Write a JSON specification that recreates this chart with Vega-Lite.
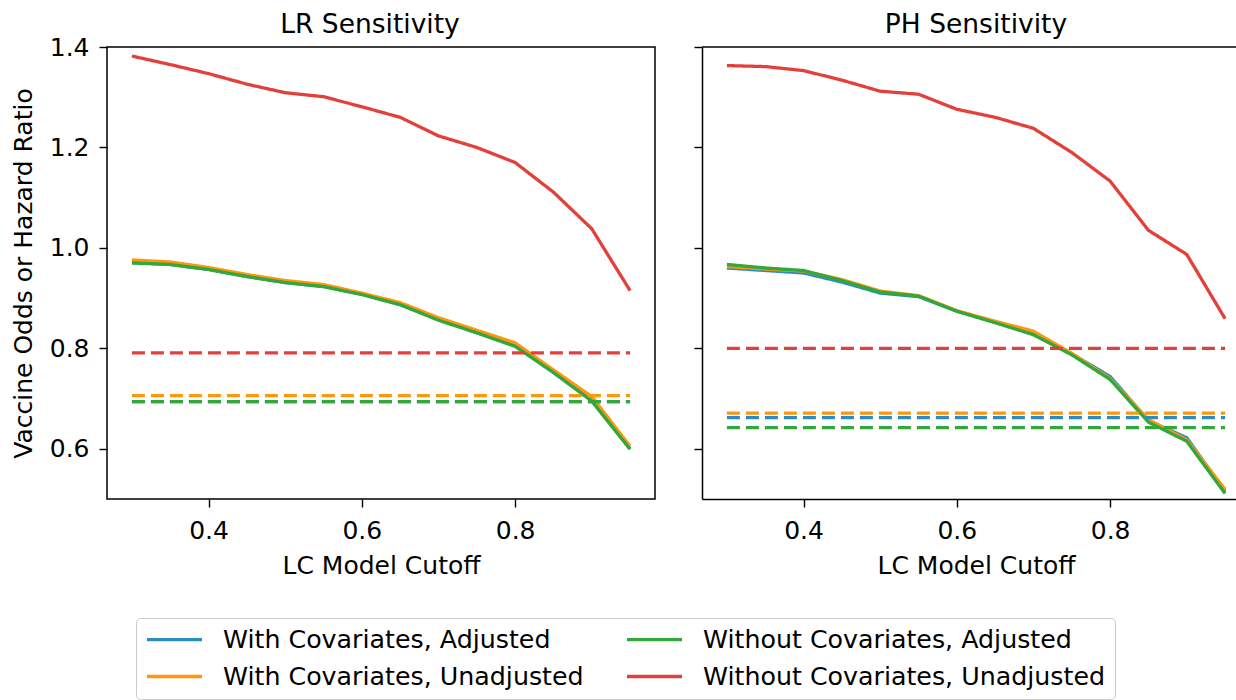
{
  "$schema": "https://vega.github.io/schema/vega-lite/v6.json",
  "padding": {"left": 10, "top": 10, "right": 0, "bottom": 0},
  "background": "white",
  "spacing": 37,
  "config": {
    "font": "DejaVu Sans",
    "view": {"stroke": "black", "strokeWidth": 1.5},
    "axis": {
      "grid": false, "domain": false,
      "labelFont": "DejaVu Sans", "titleFont": "DejaVu Sans",
      "labelFontSize": 25, "titleFontSize": 25,
      "labelColor": "black", "titleColor": "black", "titleFontWeight": "normal",
      "tickColor": "black", "tickWidth": 1.4, "tickSize": 8,
      "labelPadding": 10, "titlePadding": 13,
      "domainColor": "black", "domainWidth": 1.5
    },
    "axisX": {"labelPadding": 11, "titlePadding": 10},
    "title": {"font": "DejaVu Sans", "fontSize": 26.5, "fontWeight": "normal", "color": "black", "offset": 8, "frame": "group"},
    "legend": {
      "orient": "none", "legendX": 29, "legendY": 571, "direction": "vertical",
      "columns": 2, "symbolType": "stroke", "symbolSize": 3025, "symbolStrokeWidth": 3.3, "clipHeight": 25,
      "labelFont": "DejaVu Sans", "labelFontSize": 25.3, "labelColor": "black", "labelLimit": 0,
      "labelOffset": 19, "columnPadding": 41, "rowPadding": 11, "padding": 9,
      "strokeColor": "#cccccc", "fillColor": "white", "cornerRadius": 4
    }
  },
  "datasets": {
    "d": [
      {"p":"LR","s":"With Covariates, Adjusted","k":"solid","x":0.3,"y":0.971},
      {"p":"LR","s":"With Covariates, Adjusted","k":"solid","x":0.35,"y":0.967},
      {"p":"LR","s":"With Covariates, Adjusted","k":"solid","x":0.4,"y":0.957},
      {"p":"LR","s":"With Covariates, Adjusted","k":"solid","x":0.45,"y":0.943},
      {"p":"LR","s":"With Covariates, Adjusted","k":"solid","x":0.5,"y":0.931},
      {"p":"LR","s":"With Covariates, Adjusted","k":"solid","x":0.55,"y":0.923},
      {"p":"LR","s":"With Covariates, Adjusted","k":"solid","x":0.6,"y":0.908},
      {"p":"LR","s":"With Covariates, Adjusted","k":"solid","x":0.65,"y":0.887},
      {"p":"LR","s":"With Covariates, Adjusted","k":"solid","x":0.7,"y":0.857},
      {"p":"LR","s":"With Covariates, Adjusted","k":"solid","x":0.75,"y":0.831},
      {"p":"LR","s":"With Covariates, Adjusted","k":"solid","x":0.8,"y":0.805},
      {"p":"LR","s":"With Covariates, Adjusted","k":"solid","x":0.85,"y":0.752},
      {"p":"LR","s":"With Covariates, Adjusted","k":"solid","x":0.9,"y":0.696},
      {"p":"LR","s":"With Covariates, Adjusted","k":"solid","x":0.95,"y":0.600},
      {"p":"LR","s":"With Covariates, Unadjusted","k":"solid","x":0.3,"y":0.976},
      {"p":"LR","s":"With Covariates, Unadjusted","k":"solid","x":0.35,"y":0.972},
      {"p":"LR","s":"With Covariates, Unadjusted","k":"solid","x":0.4,"y":0.961},
      {"p":"LR","s":"With Covariates, Unadjusted","k":"solid","x":0.45,"y":0.947},
      {"p":"LR","s":"With Covariates, Unadjusted","k":"solid","x":0.5,"y":0.935},
      {"p":"LR","s":"With Covariates, Unadjusted","k":"solid","x":0.55,"y":0.927},
      {"p":"LR","s":"With Covariates, Unadjusted","k":"solid","x":0.6,"y":0.910},
      {"p":"LR","s":"With Covariates, Unadjusted","k":"solid","x":0.65,"y":0.891},
      {"p":"LR","s":"With Covariates, Unadjusted","k":"solid","x":0.7,"y":0.861},
      {"p":"LR","s":"With Covariates, Unadjusted","k":"solid","x":0.75,"y":0.836},
      {"p":"LR","s":"With Covariates, Unadjusted","k":"solid","x":0.8,"y":0.811},
      {"p":"LR","s":"With Covariates, Unadjusted","k":"solid","x":0.85,"y":0.757},
      {"p":"LR","s":"With Covariates, Unadjusted","k":"solid","x":0.9,"y":0.704},
      {"p":"LR","s":"With Covariates, Unadjusted","k":"solid","x":0.95,"y":0.605},
      {"p":"LR","s":"Without Covariates, Adjusted","k":"solid","x":0.3,"y":0.970},
      {"p":"LR","s":"Without Covariates, Adjusted","k":"solid","x":0.35,"y":0.967},
      {"p":"LR","s":"Without Covariates, Adjusted","k":"solid","x":0.4,"y":0.957},
      {"p":"LR","s":"Without Covariates, Adjusted","k":"solid","x":0.45,"y":0.943},
      {"p":"LR","s":"Without Covariates, Adjusted","k":"solid","x":0.5,"y":0.931},
      {"p":"LR","s":"Without Covariates, Adjusted","k":"solid","x":0.55,"y":0.923},
      {"p":"LR","s":"Without Covariates, Adjusted","k":"solid","x":0.6,"y":0.907},
      {"p":"LR","s":"Without Covariates, Adjusted","k":"solid","x":0.65,"y":0.887},
      {"p":"LR","s":"Without Covariates, Adjusted","k":"solid","x":0.7,"y":0.856},
      {"p":"LR","s":"Without Covariates, Adjusted","k":"solid","x":0.75,"y":0.831},
      {"p":"LR","s":"Without Covariates, Adjusted","k":"solid","x":0.8,"y":0.804},
      {"p":"LR","s":"Without Covariates, Adjusted","k":"solid","x":0.85,"y":0.752},
      {"p":"LR","s":"Without Covariates, Adjusted","k":"solid","x":0.9,"y":0.695},
      {"p":"LR","s":"Without Covariates, Adjusted","k":"solid","x":0.95,"y":0.599},
      {"p":"LR","s":"Without Covariates, Unadjusted","k":"solid","x":0.3,"y":1.382},
      {"p":"LR","s":"Without Covariates, Unadjusted","k":"solid","x":0.35,"y":1.365},
      {"p":"LR","s":"Without Covariates, Unadjusted","k":"solid","x":0.4,"y":1.347},
      {"p":"LR","s":"Without Covariates, Unadjusted","k":"solid","x":0.45,"y":1.326},
      {"p":"LR","s":"Without Covariates, Unadjusted","k":"solid","x":0.5,"y":1.309},
      {"p":"LR","s":"Without Covariates, Unadjusted","k":"solid","x":0.55,"y":1.301},
      {"p":"LR","s":"Without Covariates, Unadjusted","k":"solid","x":0.6,"y":1.281},
      {"p":"LR","s":"Without Covariates, Unadjusted","k":"solid","x":0.65,"y":1.260},
      {"p":"LR","s":"Without Covariates, Unadjusted","k":"solid","x":0.7,"y":1.223},
      {"p":"LR","s":"Without Covariates, Unadjusted","k":"solid","x":0.75,"y":1.200},
      {"p":"LR","s":"Without Covariates, Unadjusted","k":"solid","x":0.8,"y":1.170},
      {"p":"LR","s":"Without Covariates, Unadjusted","k":"solid","x":0.85,"y":1.111},
      {"p":"LR","s":"Without Covariates, Unadjusted","k":"solid","x":0.9,"y":1.038},
      {"p":"LR","s":"Without Covariates, Unadjusted","k":"solid","x":0.95,"y":0.915},
      {"p":"LR","s":"With Covariates, Adjusted","k":"dashed","x":0.3,"y":0.694},
      {"p":"LR","s":"With Covariates, Adjusted","k":"dashed","x":0.95,"y":0.694},
      {"p":"LR","s":"With Covariates, Unadjusted","k":"dashed","x":0.3,"y":0.706},
      {"p":"LR","s":"With Covariates, Unadjusted","k":"dashed","x":0.95,"y":0.706},
      {"p":"LR","s":"Without Covariates, Adjusted","k":"dashed","x":0.3,"y":0.694},
      {"p":"LR","s":"Without Covariates, Adjusted","k":"dashed","x":0.95,"y":0.694},
      {"p":"LR","s":"Without Covariates, Unadjusted","k":"dashed","x":0.3,"y":0.791},
      {"p":"LR","s":"Without Covariates, Unadjusted","k":"dashed","x":0.95,"y":0.791},

      {"p":"PH","s":"With Covariates, Adjusted","k":"solid","x":0.3,"y":0.960},
      {"p":"PH","s":"With Covariates, Adjusted","k":"solid","x":0.35,"y":0.955},
      {"p":"PH","s":"With Covariates, Adjusted","k":"solid","x":0.4,"y":0.950},
      {"p":"PH","s":"With Covariates, Adjusted","k":"solid","x":0.45,"y":0.932},
      {"p":"PH","s":"With Covariates, Adjusted","k":"solid","x":0.5,"y":0.910},
      {"p":"PH","s":"With Covariates, Adjusted","k":"solid","x":0.55,"y":0.903},
      {"p":"PH","s":"With Covariates, Adjusted","k":"solid","x":0.6,"y":0.874},
      {"p":"PH","s":"With Covariates, Adjusted","k":"solid","x":0.65,"y":0.852},
      {"p":"PH","s":"With Covariates, Adjusted","k":"solid","x":0.7,"y":0.829},
      {"p":"PH","s":"With Covariates, Adjusted","k":"solid","x":0.75,"y":0.789},
      {"p":"PH","s":"With Covariates, Adjusted","k":"solid","x":0.8,"y":0.744},
      {"p":"PH","s":"With Covariates, Adjusted","k":"solid","x":0.85,"y":0.656},
      {"p":"PH","s":"With Covariates, Adjusted","k":"solid","x":0.9,"y":0.622},
      {"p":"PH","s":"With Covariates, Adjusted","k":"solid","x":0.95,"y":0.515},
      {"p":"PH","s":"With Covariates, Unadjusted","k":"solid","x":0.3,"y":0.963},
      {"p":"PH","s":"With Covariates, Unadjusted","k":"solid","x":0.35,"y":0.958},
      {"p":"PH","s":"With Covariates, Unadjusted","k":"solid","x":0.4,"y":0.954},
      {"p":"PH","s":"With Covariates, Unadjusted","k":"solid","x":0.45,"y":0.937},
      {"p":"PH","s":"With Covariates, Unadjusted","k":"solid","x":0.5,"y":0.914},
      {"p":"PH","s":"With Covariates, Unadjusted","k":"solid","x":0.55,"y":0.905},
      {"p":"PH","s":"With Covariates, Unadjusted","k":"solid","x":0.6,"y":0.875},
      {"p":"PH","s":"With Covariates, Unadjusted","k":"solid","x":0.65,"y":0.854},
      {"p":"PH","s":"With Covariates, Unadjusted","k":"solid","x":0.7,"y":0.834},
      {"p":"PH","s":"With Covariates, Unadjusted","k":"solid","x":0.75,"y":0.790},
      {"p":"PH","s":"With Covariates, Unadjusted","k":"solid","x":0.8,"y":0.740},
      {"p":"PH","s":"With Covariates, Unadjusted","k":"solid","x":0.85,"y":0.658},
      {"p":"PH","s":"With Covariates, Unadjusted","k":"solid","x":0.9,"y":0.618},
      {"p":"PH","s":"With Covariates, Unadjusted","k":"solid","x":0.95,"y":0.519},
      {"p":"PH","s":"Without Covariates, Adjusted","k":"solid","x":0.3,"y":0.967},
      {"p":"PH","s":"Without Covariates, Adjusted","k":"solid","x":0.35,"y":0.960},
      {"p":"PH","s":"Without Covariates, Adjusted","k":"solid","x":0.4,"y":0.955},
      {"p":"PH","s":"Without Covariates, Adjusted","k":"solid","x":0.45,"y":0.935},
      {"p":"PH","s":"Without Covariates, Adjusted","k":"solid","x":0.5,"y":0.912},
      {"p":"PH","s":"Without Covariates, Adjusted","k":"solid","x":0.55,"y":0.904},
      {"p":"PH","s":"Without Covariates, Adjusted","k":"solid","x":0.6,"y":0.874},
      {"p":"PH","s":"Without Covariates, Adjusted","k":"solid","x":0.65,"y":0.851},
      {"p":"PH","s":"Without Covariates, Adjusted","k":"solid","x":0.7,"y":0.827},
      {"p":"PH","s":"Without Covariates, Adjusted","k":"solid","x":0.75,"y":0.787},
      {"p":"PH","s":"Without Covariates, Adjusted","k":"solid","x":0.8,"y":0.738},
      {"p":"PH","s":"Without Covariates, Adjusted","k":"solid","x":0.85,"y":0.653},
      {"p":"PH","s":"Without Covariates, Adjusted","k":"solid","x":0.9,"y":0.615},
      {"p":"PH","s":"Without Covariates, Adjusted","k":"solid","x":0.95,"y":0.511},
      {"p":"PH","s":"Without Covariates, Unadjusted","k":"solid","x":0.3,"y":1.363},
      {"p":"PH","s":"Without Covariates, Unadjusted","k":"solid","x":0.35,"y":1.361},
      {"p":"PH","s":"Without Covariates, Unadjusted","k":"solid","x":0.4,"y":1.353},
      {"p":"PH","s":"Without Covariates, Unadjusted","k":"solid","x":0.45,"y":1.334},
      {"p":"PH","s":"Without Covariates, Unadjusted","k":"solid","x":0.5,"y":1.312},
      {"p":"PH","s":"Without Covariates, Unadjusted","k":"solid","x":0.55,"y":1.306},
      {"p":"PH","s":"Without Covariates, Unadjusted","k":"solid","x":0.6,"y":1.276},
      {"p":"PH","s":"Without Covariates, Unadjusted","k":"solid","x":0.65,"y":1.260},
      {"p":"PH","s":"Without Covariates, Unadjusted","k":"solid","x":0.7,"y":1.238},
      {"p":"PH","s":"Without Covariates, Unadjusted","k":"solid","x":0.75,"y":1.190},
      {"p":"PH","s":"Without Covariates, Unadjusted","k":"solid","x":0.8,"y":1.133},
      {"p":"PH","s":"Without Covariates, Unadjusted","k":"solid","x":0.85,"y":1.035},
      {"p":"PH","s":"Without Covariates, Unadjusted","k":"solid","x":0.9,"y":0.987},
      {"p":"PH","s":"Without Covariates, Unadjusted","k":"solid","x":0.95,"y":0.859},
      {"p":"PH","s":"With Covariates, Adjusted","k":"dashed","x":0.3,"y":0.662},
      {"p":"PH","s":"With Covariates, Adjusted","k":"dashed","x":0.95,"y":0.662},
      {"p":"PH","s":"With Covariates, Unadjusted","k":"dashed","x":0.3,"y":0.671},
      {"p":"PH","s":"With Covariates, Unadjusted","k":"dashed","x":0.95,"y":0.671},
      {"p":"PH","s":"Without Covariates, Adjusted","k":"dashed","x":0.3,"y":0.642},
      {"p":"PH","s":"Without Covariates, Adjusted","k":"dashed","x":0.95,"y":0.642},
      {"p":"PH","s":"Without Covariates, Unadjusted","k":"dashed","x":0.3,"y":0.800},
      {"p":"PH","s":"Without Covariates, Unadjusted","k":"dashed","x":0.95,"y":0.800}
    ]
  },
  "data": {"name": "d"},
  "hconcat": [
    {
      "width": 548, "height": 452,
      "title": {"text": "LR Sensitivity", "dy": 11, "dx": -11},
      "transform": [{"filter": "datum.p === 'LR'"}],
      "mark": {"type": "line", "strokeWidth": 3.3},
      "encoding": {
        "x": {"field": "x", "type": "quantitative",
              "scale": {"domain": [0.2675, 0.9825], "nice": false, "zero": false},
              "axis": {"values": [0.4, 0.6, 0.8], "format": ".1f", "title": "LC Model Cutoff"}},
        "y": {"field": "y", "type": "quantitative",
              "scale": {"domain": [0.5, 1.4], "nice": false, "zero": false},
              "axis": {"values": [0.6, 0.8, 1.0, 1.2, 1.4], "format": ".1f", "title": "Vaccine Odds or Hazard Ratio"}},
        "color": {"field": "s", "type": "nominal",
                  "scale": {"domain": ["With Covariates, Adjusted", "With Covariates, Unadjusted", "Without Covariates, Adjusted", "Without Covariates, Unadjusted"],
                            "range": ["#2b8cc4", "#ff9610", "#33a83a", "#e2413b"]},
                  "legend": {"title": null}},
        "strokeDash": {"field": "k", "type": "nominal",
                       "scale": {"domain": ["solid", "dashed"], "range": [[1, 0], [13, 6]]},
                       "legend": null}
      }
    },
    {
      "width": 544, "height": 452,
      "title": {"text": "PH Sensitivity", "dx": 2},
      "view": {"stroke": null},
      "layer": [
        {
          "transform": [{"filter": "datum.p === 'PH'"}],
          "mark": {"type": "line", "strokeWidth": 3.3},
          "encoding": {
            "x": {"field": "x", "type": "quantitative",
                  "scale": {"domain": [0.2675, 0.9773], "nice": false, "zero": false},
                  "axis": {"values": [0.4, 0.6, 0.8], "format": ".1f", "title": "LC Model Cutoff", "domain": true, "titleX": 274}},
            "y": {"field": "y", "type": "quantitative",
                  "scale": {"domain": [0.5, 1.4], "nice": false, "zero": false},
                  "axis": {"values": [0.6, 0.8, 1.0, 1.2, 1.4], "labels": false, "title": null, "domain": true}},
            "color": {"field": "s", "type": "nominal",
                      "scale": {"domain": ["With Covariates, Adjusted", "With Covariates, Unadjusted", "Without Covariates, Adjusted", "Without Covariates, Unadjusted"],
                                "range": ["#2b8cc4", "#ff9610", "#33a83a", "#e2413b"]},
                      "legend": {"title": null}},
            "strokeDash": {"field": "k", "type": "nominal",
                           "scale": {"domain": ["solid", "dashed"], "range": [[1, 0], [13, 6]]},
                           "legend": null}
          }
        },
        {
          "data": {"values": [{}]},
          "mark": {"type": "rule", "color": "black", "strokeWidth": 1.5},
          "encoding": {"y": {"datum": 1.4}}
        }
      ]
    }
  ]
}
